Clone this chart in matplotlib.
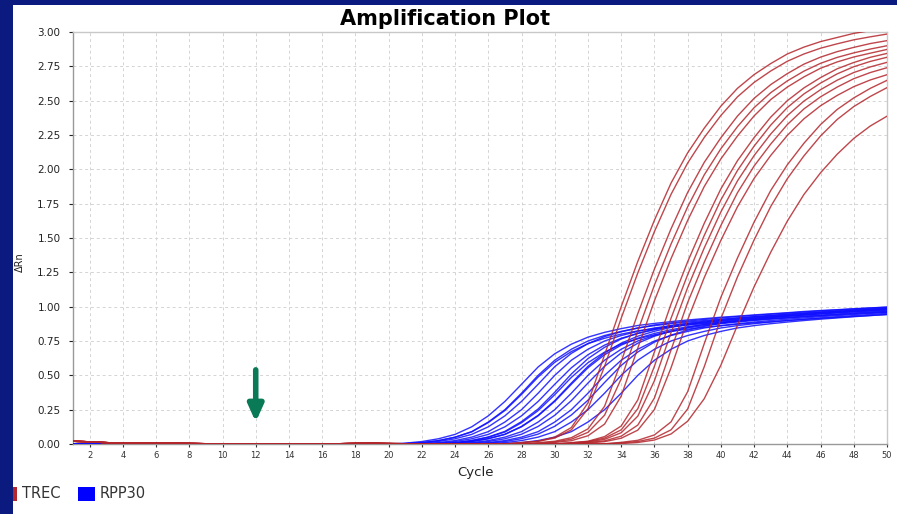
import matplotlib
matplotlib.use("Agg")
import matplotlib.pyplot as plt
from matplotlib.patches import Rectangle

# ---------------- data ----------------
n_cycles = 50
x_ticks = list(range(2, 51, 2))
y_ticks = [0.00, 0.25, 0.50, 0.75, 1.00, 1.25, 1.50, 1.75, 2.00, 2.25, 2.50, 2.75, 3.00]

# TREC curves (values for the last cycles, ending at cycle 50)
red_baseline = [0.02, 0.016, 0.01, 0.006, 0.005, 0.007, 0.006, 0.004, 0.002, 0.001,
                0, 0, 0, 0, 0, 0, 0.002, 0.004, 0.005, 0.003, 0.002, 0.001, 0, 0, 0, 0, 0]
trec_1 = [0.01, 0.02, 0.05, 0.12, 0.30, 0.65, 1.00, 1.33, 1.63, 1.90, 2.12, 2.30, 2.46, 2.59, 2.69, 2.77, 2.84, 2.89, 2.93, 2.96, 2.99, 3.01, 3.03]
trec_2 = [0.01, 0.02, 0.043, 0.103, 0.257, 0.566, 0.916, 1.246, 1.547, 1.818, 2.046, 2.232, 2.392, 2.528, 2.633, 2.716, 2.787, 2.84, 2.882, 2.914, 2.943, 2.965, 2.985]
trec_3 = [0.0, 0.01, 0.02, 0.046, 0.11, 0.275, 0.60, 0.95, 1.274, 1.567, 1.832, 2.051, 2.23, 2.388, 2.517, 2.617, 2.697, 2.766, 2.817, 2.857, 2.888, 2.916, 2.937]
trec_4 = [0.0, 0.005, 0.015, 0.035, 0.085, 0.21, 0.475, 0.825, 1.157, 1.456, 1.727, 1.96, 2.15, 2.311, 2.449, 2.558, 2.644, 2.715, 2.772, 2.815, 2.848, 2.876, 2.90]
trec_5 = [0.0, 0.0, 0.011, 0.024, 0.06, 0.145, 0.349, 0.699, 1.043, 1.35, 1.628, 1.875, 2.076, 2.243, 2.389, 2.508, 2.599, 2.673, 2.736, 2.782, 2.818, 2.846, 2.873]
trec_6 = [0, 0, 0, 0.01, 0.02, 0.054, 0.131, 0.321, 0.671, 1.019, 1.327, 1.607, 1.858, 2.063, 2.231, 2.38, 2.5, 2.593, 2.668, 2.732, 2.778, 2.816, 2.844]
trec_7 = [0, 0, 0, 0.008, 0.018, 0.043, 0.103, 0.257, 0.566, 0.916, 1.233, 1.519, 1.777, 1.992, 2.169, 2.322, 2.45, 2.549, 2.628, 2.695, 2.747, 2.786, 2.816]
trec_8 = [0, 0, 0, 0.005, 0.015, 0.034, 0.082, 0.203, 0.461, 0.811, 1.139, 1.428, 1.69, 1.916, 2.1, 2.257, 2.391, 2.497, 2.58, 2.649, 2.705, 2.746, 2.779]
trec_9 = [0, 0, 0, 0, 0.011, 0.023, 0.057, 0.138, 0.335, 0.685, 1.03, 1.324, 1.591, 1.83, 2.024, 2.184, 2.326, 2.44, 2.528, 2.599, 2.66, 2.705, 2.74]
trec_10 = [0, 0, 0, 0, 0.007, 0.017, 0.042, 0.101, 0.251, 0.555, 0.905, 1.212, 1.483, 1.728, 1.934, 2.101, 2.247, 2.368, 2.463, 2.538, 2.602, 2.651, 2.689]
trec_11 = [0, 0, 0, 0, 0, 0.002, 0.012, 0.027, 0.066, 0.161, 0.381, 0.731, 1.068, 1.355, 1.616, 1.846, 2.033, 2.19, 2.326, 2.436, 2.52, 2.59, 2.648]
trec_12 = [0, 0, 0, 0, 0, 0, 0.008, 0.018, 0.043, 0.103, 0.255, 0.563, 0.913, 1.217, 1.486, 1.729, 1.932, 2.098, 2.243, 2.363, 2.457, 2.531, 2.595]
trec_13 = [0, 0, 0, 0, 0, 0, 0.003, 0.011, 0.029, 0.073, 0.166, 0.33, 0.574, 0.865, 1.145, 1.396, 1.623, 1.817, 1.975, 2.11, 2.225, 2.316, 2.387]

# RPP30 curves (values for the last cycles, ending at cycle 50)
blue_baseline = [0.0] * 19
rpp_1 = [0.0, 0.006, 0.018, 0.038, 0.07, 0.125, 0.205, 0.31, 0.435, 0.561, 0.657, 0.727, 0.778, 0.813, 0.84, 0.863, 0.878, 0.891, 0.903, 0.913, 0.923, 0.931, 0.94, 0.948, 0.956, 0.965, 0.972, 0.978, 0.985, 0.991, 0.997]
rpp_2 = [0.0, 0.003, 0.01, 0.025, 0.05, 0.09, 0.16, 0.25, 0.37, 0.5, 0.61, 0.69, 0.75, 0.79, 0.82, 0.845, 0.862, 0.876, 0.888, 0.899, 0.909, 0.918, 0.927, 0.935, 0.943, 0.951, 0.958, 0.965, 0.972, 0.978, 0.984]
rpp_3 = [0, 0.003, 0.01, 0.024, 0.049, 0.088, 0.156, 0.244, 0.361, 0.488, 0.595, 0.673, 0.731, 0.77, 0.80, 0.824, 0.84, 0.854, 0.866, 0.877, 0.886, 0.895, 0.904, 0.912, 0.919, 0.927, 0.934, 0.941, 0.948, 0.954, 0.959]
rpp_4 = [0, 0.0, 0.006, 0.018, 0.038, 0.07, 0.125, 0.205, 0.31, 0.435, 0.563, 0.66, 0.731, 0.782, 0.817, 0.844, 0.867, 0.882, 0.895, 0.907, 0.918, 0.928, 0.936, 0.945, 0.953, 0.961, 0.969, 0.976, 0.983, 0.99, 0.996]
rpp_5 = [0, 0, 0.003, 0.01, 0.025, 0.05, 0.09, 0.16, 0.25, 0.37, 0.5, 0.61, 0.69, 0.75, 0.79, 0.82, 0.845, 0.862, 0.876, 0.888, 0.899, 0.909, 0.918, 0.927, 0.935, 0.943, 0.951, 0.958, 0.965, 0.972, 0.978]
rpp_6 = [0, 0, 0, 0.006, 0.018, 0.038, 0.07, 0.125, 0.205, 0.31, 0.435, 0.555, 0.65, 0.72, 0.77, 0.805, 0.832, 0.854, 0.869, 0.882, 0.894, 0.904, 0.914, 0.922, 0.931, 0.939, 0.947, 0.955, 0.962, 0.968, 0.975]
rpp_7 = [0, 0, 0, 0.003, 0.01, 0.026, 0.051, 0.092, 0.163, 0.255, 0.377, 0.51, 0.622, 0.704, 0.765, 0.806, 0.836, 0.862, 0.879, 0.894, 0.906, 0.917, 0.927, 0.936, 0.946, 0.954, 0.962, 0.97, 0.977, 0.984, 0.991]
rpp_8 = [0, 0, 0, 0.003, 0.01, 0.024, 0.049, 0.087, 0.155, 0.243, 0.359, 0.485, 0.592, 0.669, 0.728, 0.766, 0.795, 0.82, 0.836, 0.85, 0.861, 0.872, 0.882, 0.89, 0.899, 0.907, 0.915, 0.922, 0.929, 0.936, 0.943]
rpp_9 = [0, 0, 0, 0, 0.006, 0.018, 0.038, 0.07, 0.125, 0.205, 0.31, 0.435, 0.555, 0.65, 0.72, 0.77, 0.805, 0.832, 0.854, 0.869, 0.882, 0.894, 0.904, 0.914, 0.922, 0.931, 0.939, 0.947, 0.955, 0.962, 0.968]
rpp_10 = [0, 0, 0, 0, 0.006, 0.018, 0.039, 0.071, 0.128, 0.209, 0.316, 0.444, 0.566, 0.663, 0.734, 0.785, 0.821, 0.849, 0.871, 0.886, 0.9, 0.912, 0.922, 0.932, 0.94, 0.95, 0.958, 0.966, 0.974, 0.981, 0.987]
rpp_11 = [0, 0, 0, 0, 0.003, 0.01, 0.025, 0.05, 0.09, 0.16, 0.25, 0.37, 0.5, 0.61, 0.69, 0.75, 0.79, 0.82, 0.845, 0.862, 0.876, 0.888, 0.899, 0.909, 0.918, 0.927, 0.935, 0.943, 0.951, 0.958, 0.965]
rpp_12 = [0, 0, 0, 0, 0, 0.006, 0.018, 0.038, 0.071, 0.128, 0.209, 0.316, 0.444, 0.566, 0.663, 0.734, 0.785, 0.821, 0.849, 0.871, 0.886, 0.9, 0.912, 0.922, 0.932, 0.94, 0.95, 0.958, 0.966, 0.974, 0.981]
rpp_13 = [0, 0, 0, 0, 0, 0.003, 0.01, 0.025, 0.05, 0.09, 0.16, 0.25, 0.37, 0.5, 0.61, 0.69, 0.75, 0.79, 0.82, 0.845, 0.862, 0.876, 0.888, 0.899, 0.909, 0.918, 0.927, 0.935, 0.943, 0.951, 0.958]
rpp_14 = [0, 0, 0, 0, 0, 0, 0.006, 0.018, 0.039, 0.072, 0.129, 0.211, 0.319, 0.448, 0.572, 0.67, 0.742, 0.793, 0.829, 0.857, 0.88, 0.895, 0.908, 0.921, 0.931, 0.941, 0.95, 0.959, 0.967, 0.975, 0.984]
rpp_15 = [0, 0, 0, 0, 0, 0, 0.003, 0.01, 0.025, 0.05, 0.09, 0.16, 0.25, 0.37, 0.5, 0.61, 0.69, 0.75, 0.79, 0.82, 0.845, 0.862, 0.876, 0.888, 0.899, 0.909, 0.918, 0.927, 0.935, 0.943, 0.951]
rpp_16 = [0, 0, 0, 0, 0, 0, 0, 0.003, 0.01, 0.025, 0.05, 0.09, 0.16, 0.25, 0.37, 0.5, 0.61, 0.69, 0.75, 0.79, 0.82, 0.845, 0.862, 0.876, 0.888, 0.899, 0.909, 0.918, 0.927, 0.935, 0.943]

trec_curves = [trec_1, trec_2, trec_3, trec_4, trec_5, trec_6, trec_7,
               trec_8, trec_9, trec_10, trec_11, trec_12, trec_13]
rpp_curves = [rpp_1, rpp_2, rpp_3, rpp_4, rpp_5, rpp_6, rpp_7, rpp_8,
              rpp_9, rpp_10, rpp_11, rpp_12, rpp_13, rpp_14, rpp_15, rpp_16]

legend_labels = ["TREC", "RPP30"]
arrow_cycle = 12
arrow_from = 0.54
arrow_to = 0.16

# ---------------- styles ----------------
RED = "#b3262c"
BLUE = "#1010ff"
NAVY = "#0b1a7e"
ARROW_GREEN = "#0a7a56"

W, H = 897, 514
fig = plt.figure(figsize=(W / 100, H / 100), dpi=100, facecolor="white")

# navy slide background strips
fig.patches.append(Rectangle((0, 0), 13 / W, 1, transform=fig.transFigure,
                             facecolor=NAVY, edgecolor="none", zorder=0))
fig.patches.append(Rectangle((0, 1 - 5 / H), 1, 5 / H, transform=fig.transFigure,
                             facecolor=NAVY, edgecolor="none", zorder=0))

ax = fig.add_axes([73 / W, 70 / H, (887 - 73) / W, (444 - 32) / H])
ax.set_xlim(1, n_cycles)
ax.set_ylim(0, 3.0)


def full_series(vals, baseline):
    start = n_cycles + 1 - len(vals)
    pre = list(baseline[:start - 1])
    pre += [0.0] * (start - 1 - len(pre))
    ys = pre + list(vals)
    xs = list(range(1, n_cycles + 1))
    return xs, ys


for vals in rpp_curves:
    xs, ys = full_series(vals, blue_baseline)
    ax.plot(xs, ys, color=BLUE, lw=1.0, alpha=0.85, zorder=3)

for vals in trec_curves:
    xs, ys = full_series(vals, red_baseline)
    ax.plot(xs, ys, color=RED, lw=1.0, alpha=0.85, zorder=4)

# grid & ticks
ax.set_xticks(x_ticks)
ax.set_yticks(y_ticks)
ax.set_yticklabels([f"{v:.2f}" for v in y_ticks])
ax.grid(True, color="#d4d4d4", linestyle=(0, (3, 3)), linewidth=0.7)
ax.set_axisbelow(True)
ax.tick_params(axis="x", labelsize=6, colors="#333333", length=2, pad=3)
ax.tick_params(axis="y", labelsize=7.5, colors="#222222", length=3, pad=6)
for side in ["top", "right"]:
    ax.spines[side].set_color("#c8c8c8")
for side in ["left", "bottom"]:
    ax.spines[side].set_color("#999999")
for sp in ax.spines.values():
    sp.set_linewidth(1.0)

# arrow
ax.annotate("", xy=(arrow_cycle, arrow_to), xytext=(arrow_cycle, arrow_from),
            arrowprops=dict(arrowstyle="-|>,head_width=0.45,head_length=1.0",
                            color=ARROW_GREEN, lw=4.0, shrinkA=0, shrinkB=0),
            zorder=6)

# texts
fig.text(445 / W, 1 - 19 / H, "Amplification Plot", ha="center", va="center",
         fontsize=15, fontweight="bold", color="black")
ax.set_xlabel("Cycle", fontsize=9.5, color="#222222", labelpad=4)
ax.xaxis.set_label_coords(476 / (887 - 73) - 73 / (887 - 73), -(466 - 444) / (444 - 32))
fig.text(20 / W, 1 - 262 / H, "\u0394Rn", rotation=90, ha="center", va="center",
         fontsize=7, color="#222222")

# legend
fig.patches.append(Rectangle((13 / W, 1 - 501 / H), 4 / W, 14 / H, transform=fig.transFigure,
                             facecolor=RED, edgecolor="none"))
fig.text(22 / W, 1 - 494 / H, legend_labels[0], ha="left", va="center", fontsize=10.5, color="#333333")
fig.patches.append(Rectangle((78 / W, 1 - 501 / H), 17 / W, 14 / H, transform=fig.transFigure,
                             facecolor="#0000ff", edgecolor="none"))
fig.text(100 / W, 1 - 494 / H, legend_labels[1], ha="left", va="center", fontsize=10.5, color="#333333")

fig.savefig("out.png", dpi=100, facecolor="white")
